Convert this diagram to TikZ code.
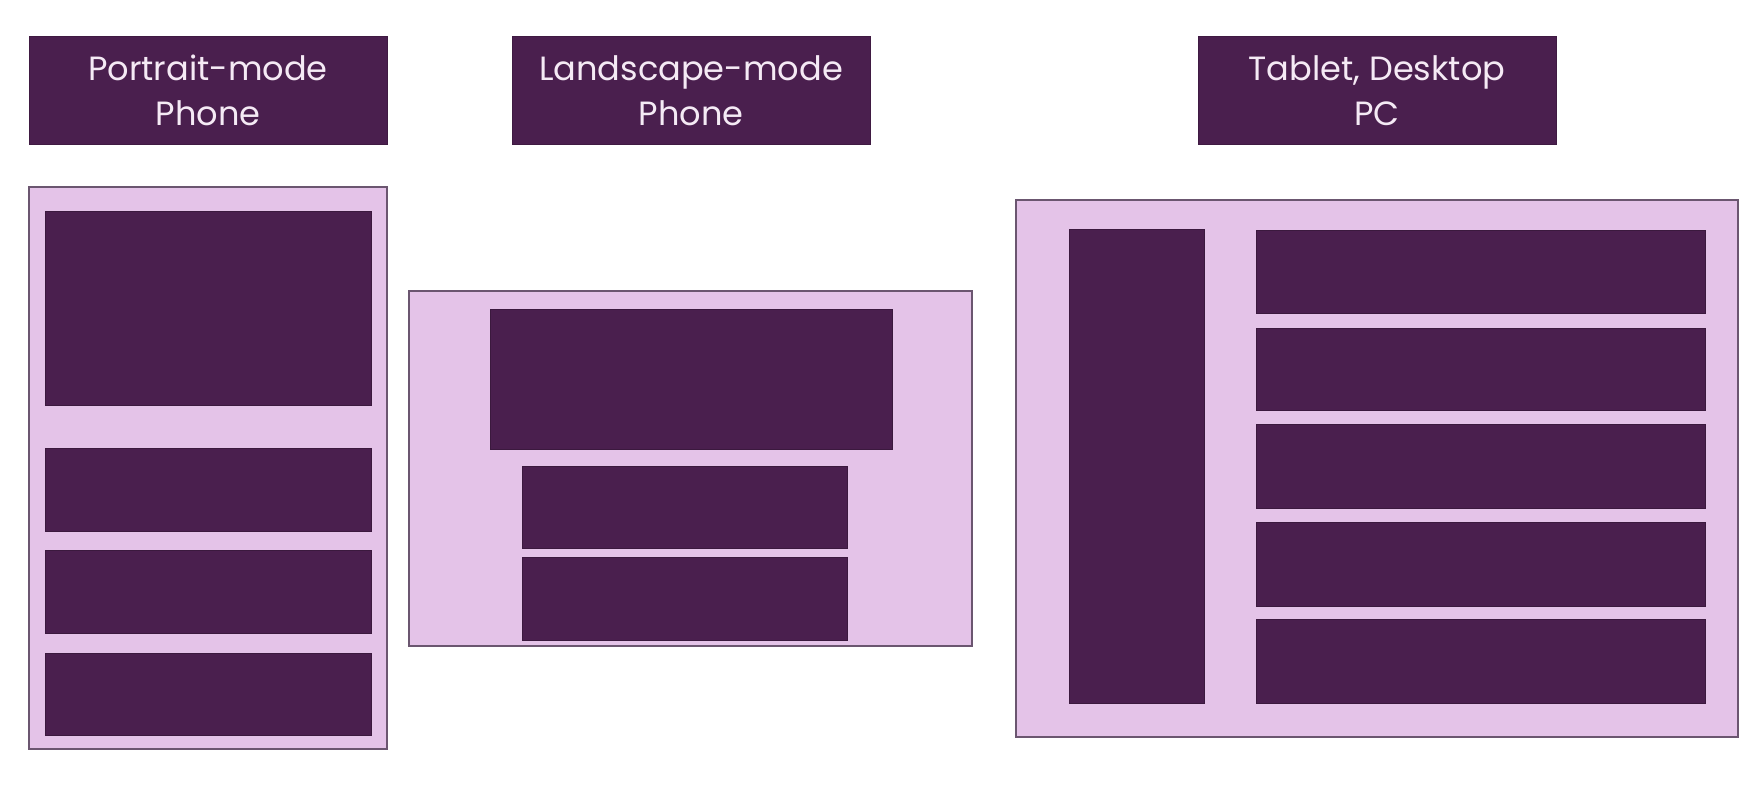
\documentclass[tikz,border=0pt]{standalone}
\usepackage{fontspec}
\setmainfont{Poppins}
\usepackage{tikz}
\usetikzlibrary{positioning}
\usepackage{xcolor}
\definecolor{fplum}{HTML}{4A1F4E}
\definecolor{flilac}{HTML}{E4C3E8}
\definecolor{fedge}{HTML}{6B5670}
\definecolor{ftext}{HTML}{F5EAF5}
\tikzset{
  header/.style = {fill=fplum, draw=fplum!85!black, line width=0.5pt,
                   text=ftext, align=center, inner sep=0pt,
                   minimum width=179pt, minimum height=53.5pt,
                   font=\fontsize{16.8}{22.5}\selectfont},
  frame/.style  = {fill=flilac, draw=fedge, line width=0.9pt},
  pane/.style   = {fill=fplum, draw=fplum!80!black, line width=0.5pt},
}

\begin{document}
\begin{tikzpicture}[x=0.5pt,y=-0.5pt]
\useasboundingbox[fill=white] (0,0) rectangle (1764,792);
% headers
\node[header] (hportrait)  at (208,90.5)  {Portrait-mode\\Phone};
\node[header] (hlandscape) at (691,90.5)  {Landscape-mode\\Phone};
\node[header] (hdesktop)   at (1377,90.5) {Tablet, Desktop\\PC};
% portrait phone
\draw[frame] (29,187) rectangle (387,749);
\draw[pane] (45,211) rectangle (371,405);
\foreach \t/\b in {448/531, 550/633, 653/735}
  \draw[pane] (45,\t) rectangle (371,\b);
% landscape phone
\draw[frame] (409,291) rectangle (972,646);
\draw[pane] (490,309) rectangle (892,449);
\foreach \t/\b in {466/548, 557/640}
  \draw[pane] (522,\t) rectangle (847,\b);
% tablet / desktop
\draw[frame] (1016,200) rectangle (1738,737);
\draw[pane] (1069,229) rectangle (1204,703);
\foreach \t/\b in {230/313, 328/410, 424/508, 522/606, 619/703}
  \draw[pane] (1256,\t) rectangle (1705,\b);
\end{tikzpicture}
\end{document}
